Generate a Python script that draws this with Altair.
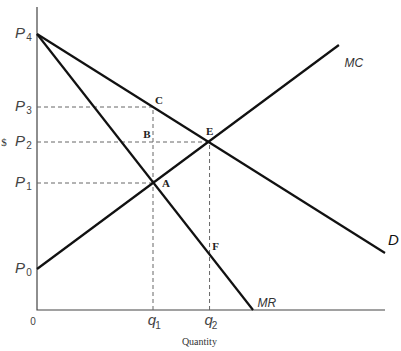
import altair as alt
import pandas as pd

# Curves (endpoints), quantity units / price units
curve_names = ["D", "D", "MR", "MR", "MC", "MC"]
curve_x = [0, 12, 0, 7.45, 0, 10.41]
curve_y = [27.6, 5.7, 27.6, 0, 4.1, 26.5]

# Price / quantity levels
p_subs = ["4", "3", "2", "1", "0"]
p_vals = [27.6, 20.3, 16.8, 12.7, 4.1]
q_subs = ["1", "2"]
q_vals = [4, 5.95]

# Dashed guides (segments)
guide_id = ["p3", "p3", "p2", "p2", "p1", "p1", "q1", "q1", "q2", "q2"]
guide_x = [0, 4, 0, 5.95, 0, 4, 4, 4, 5.95, 5.95]
guide_y = [20.3, 20.3, 16.8, 16.8, 12.7, 12.7, 0, 20.3, 0, 16.8]

# Point letters
pt_names = ["C", "B", "E", "A", "F"]
pt_x = [4, 4, 5.95, 4, 5.95]
pt_y = [20.3, 16.8, 16.8, 12.7, 5.6]

# Curve labels
cl_names = ["MC", "D", "MR"]
cl_x = [10.6, 12.1, 7.6]
cl_y = [24.7, 7.0, 0.7]

X0, X1 = 0, 12
Y0, Y1 = 0, 30.3
xs = alt.Scale(domain=[X0, X1], nice=False, zero=False)
ys = alt.Scale(domain=[Y0, Y1], nice=False, zero=False)

curves = pd.DataFrame({"name": curve_names, "x": curve_x, "y": curve_y, "o": list(range(len(curve_x)))})
guides = pd.DataFrame({"id": guide_id, "x": guide_x, "y": guide_y, "o": list(range(len(guide_x)))})
pdf = pd.DataFrame({"sub": p_subs, "y": p_vals, "x": [0] * len(p_vals), "P": ["P"] * len(p_vals)})
qdf = pd.DataFrame({"sub": q_subs, "x": q_vals, "y": [0] * len(q_vals), "q": ["q"] * len(q_vals)})
pts = pd.DataFrame({"name": pt_names, "x": pt_x, "y": pt_y})
cls = pd.DataFrame({"name": cl_names, "x": cl_x, "y": cl_y})

X = lambda: alt.X("x:Q", scale=xs, axis=None)
Y = lambda: alt.Y("y:Q", scale=ys, axis=None)

axes_df = pd.DataFrame({"id": ["a", "a", "a"], "x": [X0, X0, X1], "y": [Y1, Y0, Y0], "o": [0, 1, 2]})
axes = alt.Chart(axes_df).mark_line(color="#444", strokeWidth=1.2).encode(x=X(), y=Y(), order="o:Q", detail="id:N")

guide_layer = alt.Chart(guides).mark_line(color="#666", strokeWidth=1, strokeDash=[4, 3]).encode(
    x=X(), y=Y(), detail="id:N", order="o:Q")

curve_layer = alt.Chart(curves).mark_line(color="#111", strokeWidth=2.2).encode(
    x=X(), y=Y(), detail="name:N", order="o:Q")

sans = "Liberation Sans"
serif = "Liberation Serif"

p_main = alt.Chart(pdf).mark_text(font=sans, fontStyle="italic", fontSize=15, color="#444",
                                  align="center", baseline="middle", dx=-17, dy=-1).encode(x=X(), y=Y(), text="P:N")
p_sub = alt.Chart(pdf).mark_text(font=sans, fontSize=10, color="#444",
                                 align="center", baseline="middle", dx=-8, dy=4).encode(x=X(), y=Y(), text="sub:N")
q_main = alt.Chart(qdf).mark_text(font=sans, fontStyle="italic", fontSize=15, color="#444",
                                  align="center", baseline="middle", dx=-1, dy=10).encode(x=X(), y=Y(), text="q:N")
q_sub = alt.Chart(qdf).mark_text(font=sans, fontSize=10, color="#444",
                                 align="center", baseline="middle", dx=5, dy=16).encode(x=X(), y=Y(), text="sub:N")

zero_df = pd.DataFrame({"x": [0], "y": [0], "t": ["0"]})
zero = alt.Chart(zero_df).mark_text(font=sans, fontSize=10, color="#444", align="center", baseline="middle",
                                    dx=-4, dy=12).encode(x=X(), y=Y(), text="t:N")

dollar_df = pd.DataFrame({"x": [0], "y": [16.8], "t": ["$"]})
dollar = alt.Chart(dollar_df).mark_text(font=serif, fontSize=11, color="#333", align="center", baseline="middle",
                                        dx=-33, dy=1).encode(x=X(), y=Y(), text="t:N")

qty_df = pd.DataFrame({"x": [5.6], "y": [0], "t": ["Quantity"]})
qty = alt.Chart(qty_df).mark_text(font=serif, fontSize=10, color="#333", align="center", baseline="middle",
                                  dy=32).encode(x=X(), y=Y(), text="t:N")

pt_dx = [6, -6, 0, 13, 6]
pt_dy = [-6, -7, -10, 1, -7]
pt_layers = []
for i in range(len(pts)):
    pt_layers.append(alt.Chart(pts.iloc[[i]]).mark_text(font=serif, fontWeight="bold", fontSize=11, color="#222",
                                                        align="center", baseline="middle",
                                                        dx=pt_dx[i], dy=pt_dy[i]).encode(x=X(), y=Y(), text="name:N"))

cl_sizes = [12, 15, 12]
cl_layers = []
for i in range(len(cls)):
    cl_layers.append(alt.Chart(cls.iloc[[i]]).mark_text(font=sans, fontStyle="italic", fontSize=cl_sizes[i],
                                                        color="#333" if cls["name"][i] != "D" else "#111",
                                                        align="left", baseline="middle").encode(
        x=X(), y=Y(), text="name:N"))

chart = alt.layer(axes, guide_layer, curve_layer, p_main, p_sub, q_main, q_sub, zero, dollar, qty,
                  *pt_layers, *cl_layers).properties(
    width=348, height=303,
    background="white",
    padding={"left": 37, "top": 7, "right": 16, "bottom": 41},
    autosize=alt.AutoSizeParams(type="none"),
).configure_view(stroke=None, strokeWidth=0)

chart.save("out.html", embed_options={"renderer": "svg", "actions": False})
